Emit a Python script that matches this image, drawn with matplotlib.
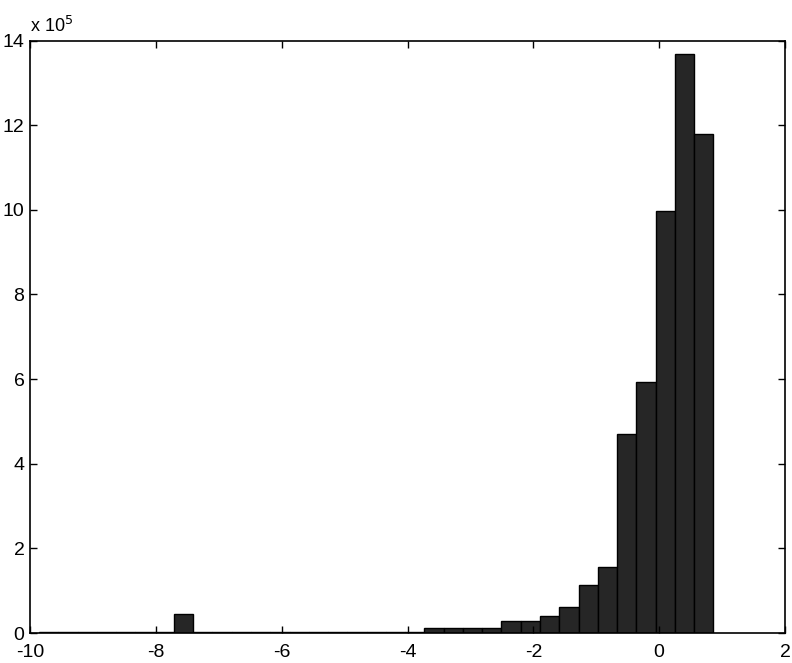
import numpy as np
import matplotlib
matplotlib.use("Agg")
import matplotlib.pyplot as plt

plt.rcParams['font.family'] = ['Liberation Sans', 'DejaVu Sans']
plt.rcParams['axes.unicode_minus'] = False

# histogram range and counts (x 10^5), 35 bins
x_lo = -9.857
x_hi = 0.863
counts = [0.02, 0.02, 0.02, 0.02, 0.02, 0.02, 0.02, 0.45, 0.02, 0.02,
          0.02, 0.02, 0.02, 0.02, 0.02, 0.02, 0.02, 0.02, 0.02, 0.02,
          0.11, 0.11, 0.11, 0.11, 0.28, 0.28, 0.41, 0.61, 1.14, 1.56,
          4.70, 5.94, 9.98, 13.67, 11.78]
xticks = [-10, -8, -6, -4, -2, 0, 2]
yticks = [0, 2, 4, 6, 8, 10, 12, 14]

edges = np.linspace(x_lo, x_hi, len(counts) + 1)
w = edges[1] - edges[0]

fig = plt.figure(figsize=(7.92, 6.63), dpi=100)
ax = fig.add_axes([30 / 792, 30 / 663, 755 / 792, 592.5 / 663])

ax.bar(edges[:-1], counts, width=w, align='edge', color='#262626',
       edgecolor='black', linewidth=1.0)

ax.set_xlim(-10, 2)
ax.set_ylim(0, 14)
ax.set_xticks(xticks)
ax.set_yticks(yticks)
ax.tick_params(direction='in', length=5, width=1, top=True, right=True,
               labelsize=14)
ax.tick_params(axis='x', pad=8)
ax.tick_params(axis='y', pad=4)
for s in ax.spines.values():
    s.set_linewidth(1.2)

ax.text(0, 1.008, r'x 10$^5$', transform=ax.transAxes, fontsize=13,
        ha='left', va='bottom')

fig.savefig('out.png', dpi=100)
